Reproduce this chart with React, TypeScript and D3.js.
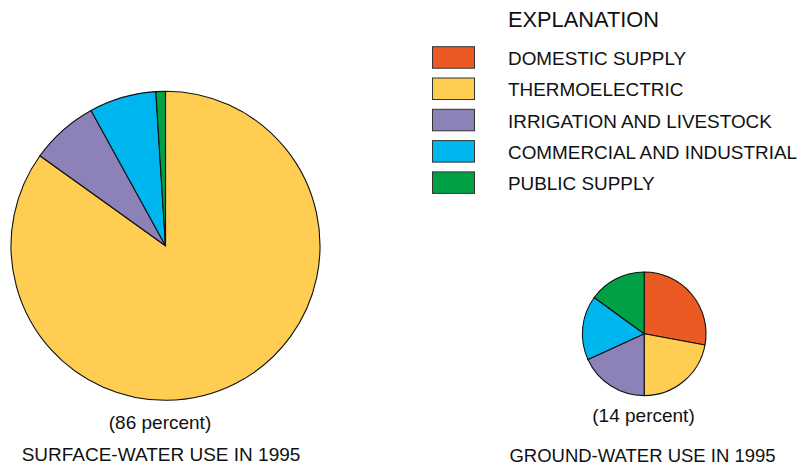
import React from "react";
import * as d3 from "d3";

const categories = [
  "DOMESTIC SUPPLY",
  "THERMOELECTRIC",
  "IRRIGATION AND LIVESTOCK",
  "COMMERCIAL AND INDUSTRIAL",
  "PUBLIC SUPPLY",
];
const colors = ["#EB5A22", "#FECD52", "#8D82B7", "#00B6EF", "#00A145"];
const surfaceValues = [0, 84.9, 7.1, 7.0, 1.0];
const groundValues = [27.9, 22.1, 18.2, 16.8, 15.0];
const surfaceShare = "(86 percent)";
const groundShare = "(14 percent)";
const surfaceTitle = "SURFACE-WATER USE IN 1995";
const groundTitle = "GROUND-WATER USE IN 1995";
const legendTitle = "EXPLANATION";

const FONT = "'Liberation Sans', Arial, Helvetica, sans-serif";

function Pie({ values, cx, cy, r }: { values: number[]; cx: number; cy: number; r: number }) {
  const pie = d3.pie<number>().sort(null).value((d) => d);
  const arc = d3.arc<d3.PieArcDatum<number>>().innerRadius(0).outerRadius(r);
  const arcs = pie(values);
  return (
    <g transform={`translate(${cx},${cy})`}>
      {arcs.map((a, i) =>
        a.data > 0 ? (
          <path
            key={i}
            d={arc(a) || ""}
            fill={colors[i]}
            stroke="#111"
            strokeWidth={1.1}
            strokeLinejoin="round"
          />
        ) : null
      )}
    </g>
  );
}

export default function App() {
  const legendY = d3.scaleLinear().domain([0, 1]).range([46.7, 78]);
  return (
    <svg
      width={806}
      height={464}
      style={{ position: "absolute", left: 0, top: 0, background: "#fff" }}
      fontFamily={FONT}
    >
      <Pie values={surfaceValues} cx={165.5} cy={245.8} r={154.5} />
      <Pie values={groundValues} cx={644.2} cy={333.8} r={61.8} />

      <text x={508} y={26.7} fontSize={21.8} fill="#111">
        {legendTitle}
      </text>
      {categories.map((c, i) => (
        <g key={c}>
          <rect
            x={432.5}
            y={legendY(i)}
            width={42}
            height={21.5}
            fill={colors[i]}
            stroke="#333"
            strokeWidth={1}
          />
          <text x={508} y={legendY(i) + 18.4} fontSize={18.9} fill="#111">
            {c}
          </text>
        </g>
      ))}

      <text x={160} y={429.3} fontSize={19} textAnchor="middle" fill="#111">
        {surfaceShare}
      </text>
      <text x={161} y={461} fontSize={19} textAnchor="middle" fill="#111">
        {surfaceTitle}
      </text>
      <text x={643.5} y={422.3} fontSize={19} textAnchor="middle" fill="#111">
        {groundShare}
      </text>
      <text x={642.5} y={461.5} fontSize={18.5} textAnchor="middle" fill="#111">
        {groundTitle}
      </text>
    </svg>
  );
}
